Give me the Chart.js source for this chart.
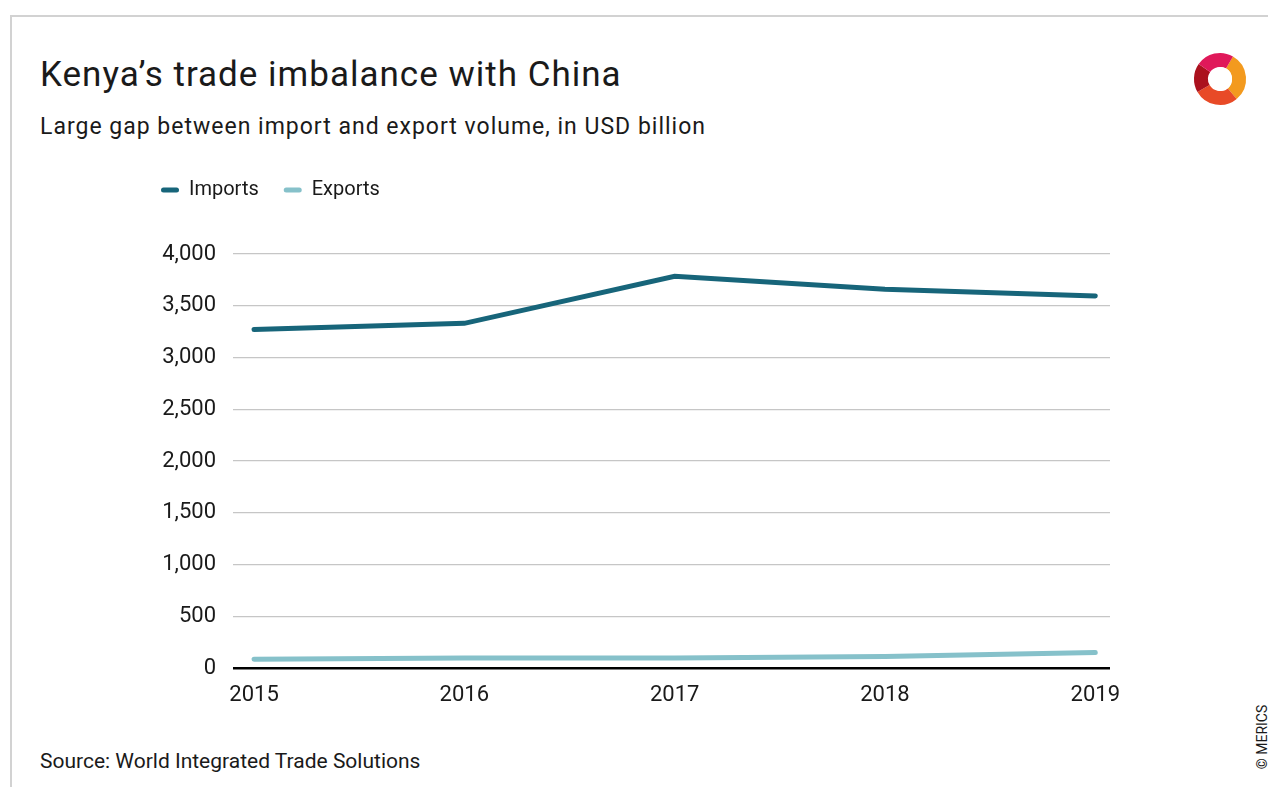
<!DOCTYPE html>
<html>
<head>
<meta charset="utf-8">
<script src="https://cdn.jsdelivr.net/npm/chart.js@4/dist/chart.umd.min.js"></script>
<style>
    body { margin: 0; background: #fff; width: 1268px; height: 787px; overflow: hidden; position: relative; font-family: Roboto, sans-serif; color: #1a1a1a; }
    .frame { position: absolute; left: 10px; top: 15px; right: -5px; bottom: -5px; border: 2px solid #d2d2d2; }
    .title { position: absolute; left: 40px; top: 53px; font-size: 35px; line-height: 44px; letter-spacing: 1px; }
    .subtitle { position: absolute; left: 40px; top: 112px; font-size: 23px; line-height: 30px; letter-spacing: 1px; }
    .source { position: absolute; left: 40px; top: 747px; font-size: 21px; line-height: 28px; }
    .copy { position: absolute; left: 1262px; top: 737px; font-size: 14px; transform: translate(-50%, -50%) rotate(-90deg); white-space: nowrap; }
    .logo { position: absolute; left: 1190px; top: 48px; }
    #wrap { position: absolute; left: 136px; top: 155px; width: 1004px; height: 558px; }
</style>
</head>
<body>
<div class="frame"></div>
<div class="title">Kenya’s trade imbalance with China</div>
<div class="subtitle">Large gap between import and export volume, in USD billion</div>
<svg class="logo" width="62" height="62" viewBox="0 0 62 62" fill="none" stroke-width="14">
    <path d="M39.5 14.5 A19 19 0 0 1 42.2 45.6" stroke="#f39a1e"/>
    <path d="M42.2 45.6 A19 19 0 0 1 13.55 40.5" stroke="#e84a27"/>
    <path d="M13.55 40.5 A19 19 0 0 1 14.4 20.1" stroke="#ab111e"/>
    <path d="M14.4 20.1 A19 19 0 0 1 39.5 14.5" stroke="#e0195a"/>
    <ellipse cx="31" cy="31" rx="11" ry="12" fill="#fff" stroke="none"/>
</svg>
<div id="wrap"><canvas id="tradeChart" width="1004" height="558"></canvas></div>
<div class="source">Source: World Integrated Trade Solutions</div>
<div class="copy">© MERICS</div>

<script>
const years = [2015, 2016, 2017, 2018, 2019];
const imports = [3270, 3330, 3785, 3660, 3595];
const exports = [85, 97, 97, 112, 150];
const yTicks = [0, 500, 1000, 1500, 2000, 2500, 3000, 3500, 4000];

document.addEventListener('DOMContentLoaded', () => {
    Chart.defaults.font.family = 'Roboto, sans-serif';
    Chart.defaults.color = '#1a1a1a';

    // fixed legend height so the plot area starts where the reference does
    const legendHeight = {
        id: 'legendHeight',
        beforeLayout(chart) {
            const lg = chart.legend;
            if (lg && !lg._fixed) {
                const fit = lg.fit;
                lg.fit = function () { fit.call(this); this.height = 99; };
                lg._fixed = true;
            }
        }
    };

    const ctx = document.getElementById('tradeChart').getContext('2d');
    new Chart(ctx, {
        type: 'line',
        data: {
            datasets: [
                { label: 'Imports', data: years.map((y, i) => ({ x: y, y: imports[i] })), borderColor: '#17657a', backgroundColor: '#17657a', borderWidth: 5, borderCapStyle: 'round', pointRadius: 0, tension: 0 },
                { label: 'Exports', data: years.map((y, i) => ({ x: y, y: exports[i] })), borderColor: '#86c1ca', backgroundColor: '#86c1ca', borderWidth: 5, borderCapStyle: 'round', pointRadius: 0, tension: 0 }
            ]
        },
        options: {
            responsive: false,
            animation: false,
            layout: { padding: { left: 0, right: 30, top: 0, bottom: 0 } },
            plugins: {
                tooltip: { enabled: false },
                legend: {
                    position: 'top', align: 'start',
                    labels: {
                        font: { size: 20 }, color: '#1a1a1a', padding: 25,
                        boxWidth: 18, boxHeight: 5, useBorderRadius: true, borderRadius: 2.5,
                        generateLabels: chart => Chart.defaults.plugins.legend.labels.generateLabels(chart).map(l => ({ ...l, fillStyle: l.strokeStyle, lineWidth: 0 }))
                    }
                }
            },
            scales: {
                x: {
                    type: 'linear', min: 2014.9, max: 2019.07,
                    afterBuildTicks: s => { s.ticks = years.map(v => ({ value: v })); },
                    afterFit: s => { s.height = 45; },
                    grid: { display: false },
                    border: { display: false },
                    ticks: { font: { size: 22 }, padding: 6, maxRotation: 0, callback: v => String(v) }
                },
                y: {
                    min: 0, max: 4000,
                    afterBuildTicks: s => { s.ticks = yTicks.map(v => ({ value: v })); },
                    afterFit: s => { s.width = 97; },
                    border: { display: false },
                    grid: {
                        drawTicks: false,
                        color: c => c.tick && c.tick.value === 0 ? '#000' : '#c6c6c6',
                        lineWidth: c => c.tick && c.tick.value === 0 ? 2.5 : 1.3
                    },
                    ticks: { font: { size: 22 }, padding: 17, callback: v => v.toLocaleString('en-US') }
                }
            }
        },
        plugins: [legendHeight]
    });
});
</script>
</body>
</html>
